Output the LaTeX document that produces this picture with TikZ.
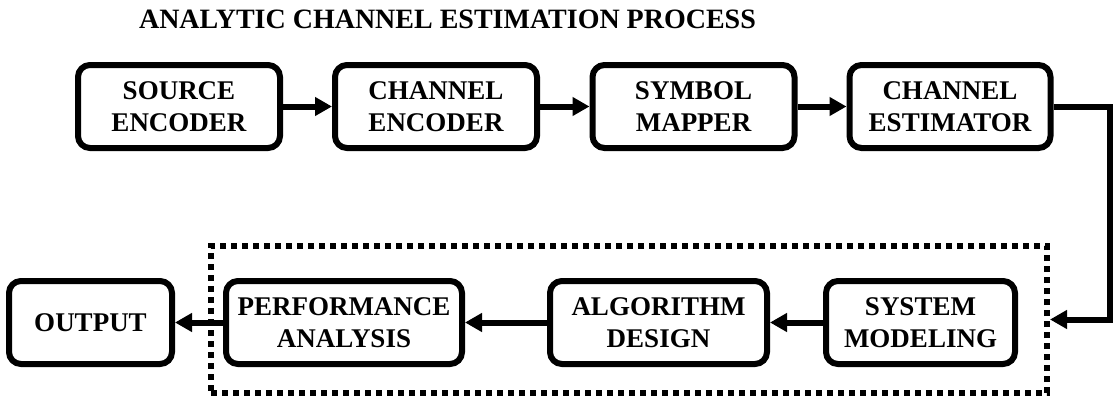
\documentclass[tikz,border=0pt]{standalone}
\usepackage{fontspec}
\setmainfont{Liberation Serif}
\usetikzlibrary{arrows.meta}
\begin{document}
\begin{tikzpicture}[x=1pt,y=-1pt,
  blk/.style={draw=black, line width=6pt, rounded corners=12pt, align=center,
    font=\bfseries\fontsize{27}{32}\selectfont, inner sep=0pt, minimum height=83pt},
  arr/.style={line width=6pt, -{Triangle[length=17pt,width=18pt]}},
  grp/.style={draw=black, line width=6pt, dash pattern=on 6pt off 5pt}
]
\useasboundingbox (0,0) rectangle (1117,407);
\node[anchor=base, font=\bfseries\fontsize{28}{32}\selectfont] (title) at (447.5,28) {ANALYTIC CHANNEL ESTIMATION PROCESS};
\node[blk, minimum width=202pt] (se) at (179,106.5) {SOURCE\\ENCODER};
\node[blk, minimum width=202pt] (ce) at (436,106.5) {CHANNEL\\ENCODER};
\node[blk, minimum width=202pt] (sm) at (693.5,106.5) {SYMBOL\\MAPPER};
\node[blk, minimum width=201pt] (est) at (950,106.5) {CHANNEL\\ESTIMATOR};
\node[blk, minimum width=163pt] (out) at (90.5,322.5) {OUTPUT};
\node[blk, minimum width=236pt] (pa) at (344,322.5) {PERFORMANCE\\ANALYSIS};
\node[blk, minimum width=217pt] (ad) at (658.5,322.5) {ALGORITHM\\DESIGN};
\node[blk, minimum width=189pt] (sys) at (920.5,322.5) {SYSTEM\\MODELING};
\node[grp, minimum width=836pt, minimum height=147pt, inner sep=0pt] (box) at (629,319.5) {};
\coordinate (c1) at (1110,106.5);
\draw[arr] (se) -- (ce);
\draw[arr] (ce) -- (sm);
\draw[arr] (sm) -- (est);
\draw[arr] (est.east) -- (c1) |- (box.east);
\draw[arr] (sys) -- (ad);
\draw[arr] (ad) -- (pa);
\draw[arr] (pa) -- (out);
\end{tikzpicture}
\end{document}
